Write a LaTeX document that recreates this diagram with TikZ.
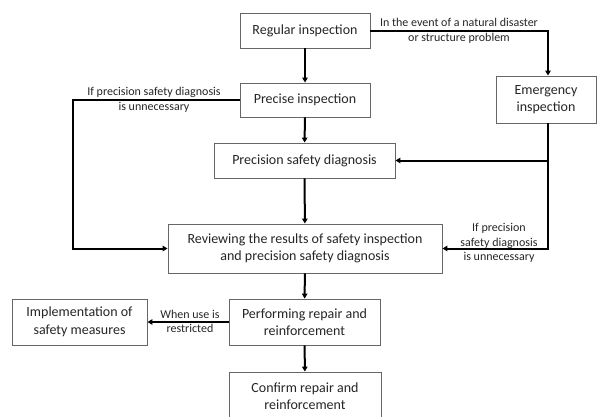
\documentclass[tikz,border=0pt]{standalone}
\usepackage{fontspec}
\setmainfont{Carlito}
\usetikzlibrary{arrows.meta}
\begin{document}
\begin{tikzpicture}[x=1pt,y=-1pt,
  box/.style={draw=black!60, line width=0.9pt, fill=white, text=black!85, align=center,
    font=\fontsize{14}{17.5}\selectfont, inner sep=0pt},
  lbl/.style={text=black!85, align=center, font=\fontsize{12}{14.5}\selectfont, inner sep=0pt},
  conn/.style={line width=2pt, -{Triangle[length=5pt,width=5.5pt]}},
  plain/.style={line width=2pt}]
\clip (0,0) rectangle (597,416);
\fill[white] (0,0) rectangle (597,416);
\node[box, minimum width=130pt, minimum height=35pt] (reg) at (305,30.5) {Regular inspection};
\node[box, minimum width=130pt, minimum height=34pt] (pre) at (305,100) {Precise inspection};
\node[box, minimum width=181pt, minimum height=35pt] (psd) at (304.5,160.5) {Precision safety diagnosis};
\node[box, minimum width=100pt, minimum height=47pt] (emg) at (546,99.5) {Emergency\\inspection};
\node[box, minimum width=274pt, minimum height=49pt] (rev) at (305,248.5) {Reviewing the results of safety inspection\\and precision safety diagnosis};
\node[box, minimum width=135pt, minimum height=46pt] (imp) at (79.5,322) {Implementation of\\safety measures};
\node[box, minimum width=151pt, minimum height=46pt] (perf) at (304.5,322) {Performing repair and\\reinforcement};
\node[box, minimum width=152pt, minimum height=48pt] (conf) at (305,396) {Confirm repair and\\reinforcement};

\coordinate (c1) at (548,30.5);
\coordinate (c2) at (73,100);
\coordinate (c3) at (73,248.5);
\coordinate (c4) at (548,248.5);
\coordinate (c5) at (548,160.5);

\draw[conn] (reg) -- (pre);
\draw[conn] (pre) -- (psd);
\draw[conn] (psd) -- (rev);
\draw[conn] (rev) -- (perf);
\draw[conn] (perf) -- (conf);
\draw[conn] (perf) -- (imp);
\draw[conn] (reg.east) -- (c1) -- (emg.north -| c1);
\draw[conn] (pre.west) -- (c2) -- (c3) -- (rev.west);
\draw[conn] (emg.south -| c4) -- (c4) -- (rev.east);
\draw[conn] (c5) -- (psd.east);

\node[lbl] (l1) at (459,31) {In the event of a natural disaster\\or structure problem};
\node[lbl] (l2) at (154,100) {If precision safety diagnosis\\is unnecessary};
\node[lbl] (l3) at (499,243) {If precision\\safety diagnosis\\is unnecessary};
\node[lbl] (l4) at (190,321.5) {When use is\\restricted};
\end{tikzpicture}
\end{document}
